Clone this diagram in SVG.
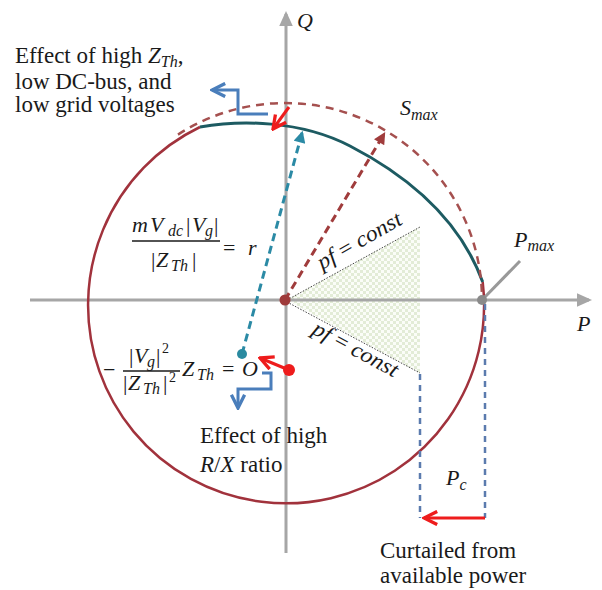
<svg xmlns="http://www.w3.org/2000/svg" width="602" height="590" viewBox="0 0 602 590">
<style>
.txt{font-family:"Liberation Serif","Times New Roman",serif;font-size:23px;fill:#1a1a1a}
.m{font-family:"Liberation Serif","Times New Roman",serif;font-style:italic;font-size:22px;fill:#1a1a1a}
.up{font-style:normal}
.axis{stroke:#a6a6a6;stroke-width:3;fill:none}
.blue{stroke:#4a7ebb;stroke-width:3;fill:none}
.red{stroke:#ee1c1c;stroke-width:3;fill:none}
.bdash{stroke:#5b7bae;stroke-width:2.5;stroke-dasharray:6 5;fill:none}
.dot{stroke:#444;stroke-width:1;stroke-dasharray:1.5 1.5;fill:none}
</style>
<defs>
<pattern id="chk" width="6" height="6" patternUnits="userSpaceOnUse">
<rect width="6" height="6" fill="#fbfdf8"/>
<rect width="3" height="3" fill="#e3ecd7"/>
<rect x="3" y="3" width="3" height="3" fill="#e3ecd7"/>
</pattern>
<marker id="hGray" viewBox="0 0 10 10" refX="8" refY="5" markerWidth="5.5" markerHeight="5" orient="auto" markerUnits="strokeWidth"><path d="M0,0.5 L10,5 L0,9.5 z" fill="#a6a6a6"/></marker>
<marker id="hTeal" viewBox="0 0 10 10" refX="8" refY="5" markerWidth="4.5" markerHeight="4" orient="auto" markerUnits="strokeWidth"><path d="M0,0 L10,5 L0,10 z" fill="#2b8aa5"/></marker>
<marker id="hMaroon" viewBox="0 0 10 10" refX="8" refY="5" markerWidth="4.5" markerHeight="4" orient="auto" markerUnits="strokeWidth"><path d="M0,0 L10,5 L0,10 z" fill="#a03c3c"/></marker>
<marker id="hRed" viewBox="0 0 10 10" refX="9" refY="5" markerWidth="5.5" markerHeight="5.5" orient="auto" markerUnits="strokeWidth"><path d="M1,1 L9,5 L1,9" fill="none" stroke="#ee1c1c" stroke-width="2"/></marker>
<marker id="hBlue" viewBox="0 0 10 10" refX="9" refY="5" markerWidth="5.5" markerHeight="5.5" orient="auto" markerUnits="strokeWidth"><path d="M1,1 L9,5 L1,9" fill="none" stroke="#4a7ebb" stroke-width="2"/></marker>
</defs>
<rect width="602" height="590" fill="#ffffff"/>

<!-- pf = const shaded wedge -->
<g id="pf-region">
<polygon points="287,300 420,227 420,373" fill="url(#chk)"/>
<line class="dot" x1="287" y1="300" x2="420" y2="227"/>
<line class="dot" x1="287" y1="302" x2="420" y2="373"/>
<text class="m" transform="translate(322,270) rotate(-29.7)" textLength="94" lengthAdjust="spacingAndGlyphs">pf <tspan class="up">=</tspan> const</text>
<text class="m" transform="translate(311,333) rotate(28.3)" textLength="94" lengthAdjust="spacingAndGlyphs">pf <tspan class="up">=</tspan> const</text>
</g>

<!-- axes -->
<g id="axes">
<line class="axis" x1="286" y1="553" x2="286" y2="14" marker-end="url(#hGray)"/>
<line class="axis" x1="30" y1="300" x2="589" y2="300" marker-end="url(#hGray)"/>
<text class="m" x="297" y="28" font-size="23">Q</text>
<text class="m" x="577" y="331" font-size="23">P</text>
</g>

<!-- capability curves -->
<g id="curves">
<path d="M482.7,282 A198,198 0 1 1 200,127" fill="none" stroke="#a1323c" stroke-width="2.5"/>
<path d="M200,127 C240,120 300,120 350,146 C410,177 460,220 482.7,282" fill="none" stroke="#1d5b62" stroke-width="3"/>
<path d="M178,134.6 A197,197 0 0 1 482,300" fill="none" stroke="#a5504f" stroke-width="2.5" stroke-dasharray="8 6"/>
</g>

<!-- connectors / arrows -->
<g id="connectors">
<line x1="242" y1="354" x2="302" y2="133" stroke="#2b8aa5" stroke-width="3" stroke-dasharray="8 5" marker-end="url(#hTeal)"/>
<line x1="285" y1="300" x2="384" y2="134" stroke="#a03c3c" stroke-width="3" stroke-dasharray="8 5" marker-end="url(#hMaroon)"/>
<line class="red" x1="289" y1="107" x2="273" y2="129" marker-end="url(#hRed)"/>
<line class="red" x1="289" y1="370" x2="260" y2="358" marker-end="url(#hRed)"/>
<polyline class="blue" points="268,114 238,114 238,90 212,90" marker-end="url(#hBlue)"/>
<polyline class="blue" points="262,373 271,373 271,389 238,389 238,408" marker-end="url(#hBlue)"/>
<line x1="482" y1="300" x2="520" y2="261" stroke="#999999" stroke-width="3"/>
<line class="bdash" x1="420" y1="374" x2="420" y2="518"/>
<line class="bdash" x1="485" y1="304" x2="485" y2="518"/>
<line class="red" x1="485" y1="518" x2="424" y2="518" marker-end="url(#hRed)"/>
</g>

<!-- points -->
<g id="origin"><circle cx="285" cy="300" r="5.5" fill="#9e3a3a"/></g>
<g id="center-O"><circle cx="242" cy="354" r="5" fill="#2a8aa0"/></g>
<g id="red-point"><circle cx="289" cy="370" r="6" fill="#ee1c1c"/></g>
<g id="pmax-point"><circle cx="482" cy="300" r="5" fill="#8a8a8a"/></g>

<!-- labels -->
<g id="label-zth">
<text class="txt" x="15" y="63">Effect of high <tspan font-style="italic">Z</tspan><tspan font-style="italic" font-size="16" dy="4">Th</tspan><tspan dy="-4">,</tspan></text>
<text class="txt" x="15" y="89">low DC-bus, and</text>
<text class="txt" x="15" y="112">low grid voltages</text>
</g>
<g id="label-rx">
<text class="txt" x="200" y="443">Effect of high</text>
<text class="txt" x="200" y="472"><tspan font-style="italic">R</tspan>/<tspan font-style="italic">X</tspan> ratio</text>
</g>
<g id="label-curtailed">
<text class="txt" x="380" y="558">Curtailed from</text>
<text class="txt" x="380" y="583">available power</text>
</g>
<g id="label-smax"><text class="m" x="400" y="115" font-size="23">S<tspan font-size="16" dy="5">max</tspan></text></g>
<g id="label-pmax"><text class="m" x="514" y="247" font-size="23">P<tspan font-size="16" dy="4">max</tspan></text></g>
<g id="label-pc"><text class="m" x="446" y="485" font-size="23">P<tspan font-size="16" dy="5">c</tspan></text></g>

<g id="formula-r">
<text class="m" y="232"><tspan x="132">m</tspan><tspan x="150">V</tspan><tspan x="168" dy="4" font-size="16">dc</tspan><tspan x="186" dy="-4" class="up">|</tspan><tspan x="192">V</tspan><tspan x="205" dy="4" font-size="16">g</tspan><tspan x="214" dy="-4" class="up">|</tspan></text>
<line x1="132" y1="241" x2="220" y2="241" stroke="#1a1a1a" stroke-width="1.5"/>
<text class="m" y="267"><tspan x="151" class="up">|</tspan><tspan x="156">Z</tspan><tspan x="171" dy="4" font-size="16">Th</tspan><tspan x="192" dy="-4" class="up">|</tspan></text>
<text class="m" y="255"><tspan x="223" class="up">=</tspan><tspan x="248">r</tspan></text>
</g>
<g id="formula-O">
<text class="m" x="103" y="377"><tspan class="up">−</tspan></text>
<text class="m" y="363"><tspan x="129" class="up">|</tspan><tspan x="134">V</tspan><tspan x="147" dy="4" font-size="16">g</tspan><tspan x="156" dy="-4" class="up">|</tspan><tspan x="162" dy="-10" font-size="14" class="up">2</tspan></text>
<line x1="123" y1="371" x2="180" y2="371" stroke="#1a1a1a" stroke-width="1.5"/>
<text class="m" y="390"><tspan x="123" class="up">|</tspan><tspan x="128">Z</tspan><tspan x="143" dy="4" font-size="16">Th</tspan><tspan x="163" dy="-4" class="up">|</tspan><tspan x="169" dy="-8" font-size="14" class="up">2</tspan></text>
<text class="m" y="376"><tspan x="182">Z</tspan><tspan x="197" dy="4" font-size="16">Th</tspan><tspan x="222" dy="-4" class="up">=</tspan><tspan x="242">O</tspan></text>
</g>
</svg>
